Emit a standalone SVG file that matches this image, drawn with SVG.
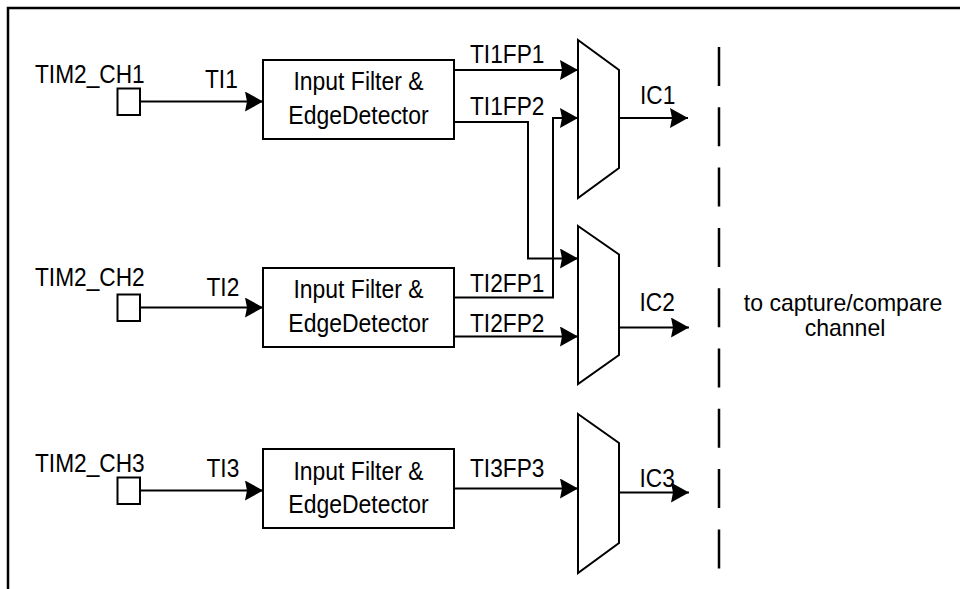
<svg xmlns="http://www.w3.org/2000/svg" width="960" height="589" viewBox="0 0 960 589">
<style>
.ln{fill:none;stroke:#000;stroke-width:2}
.box{fill:#fff;stroke:#000;stroke-width:2}
.mux{fill:#fff;stroke:#000;stroke-width:2;stroke-linejoin:miter}
.port{fill:#fff;stroke:#000;stroke-width:2}
.t{font-family:"Liberation Sans",Arial,sans-serif;font-size:25.5px;fill:#000}
.s{font-size:24px}
.c{text-anchor:middle}
.dash{fill:none;stroke:#000;stroke-width:2.5;stroke-dasharray:39 21.3}
</style>
<defs>
<marker id="arr" markerUnits="userSpaceOnUse" markerWidth="18" markerHeight="20" refX="18" refY="10" orient="auto" viewBox="0 0 18 20">
<path d="M0,0 L18,10 L0,20 L2,10 z" fill="#000"/>
</marker>
</defs>
<rect width="960" height="589" fill="#fff"/>
<path d="M8,589 V8 H960" fill="none" stroke="#000" stroke-width="2.5"/>

<g id="ch1">
<text class="t" transform="translate(35,82.5) scale(0.89,1)">TIM2_CH1</text>
<rect class="port" x="117.5" y="88.5" width="22.5" height="26.5"/>
</g>
<g id="ch2">
<text class="t" transform="translate(35,285.5) scale(0.89,1)">TIM2_CH2</text>
<rect class="port" x="117.5" y="294.5" width="22.5" height="26.5"/>
</g>
<g id="ch3">
<text class="t" transform="translate(35,471.5) scale(0.89,1)">TIM2_CH3</text>
<rect class="port" x="117.5" y="477.5" width="22.5" height="26.5"/>
</g>

<g id="filter1">
<rect class="box" x="263" y="60" width="191" height="79"/>
<text class="t c" transform="translate(358.5,90) scale(0.9,1)">Input Filter &amp;</text>
<text class="t c" transform="translate(358.5,124) scale(0.9,1)">EdgeDetector</text>
</g>
<g id="filter2">
<rect class="box" x="263" y="268" width="191" height="79"/>
<text class="t c" transform="translate(358.5,298) scale(0.9,1)">Input Filter &amp;</text>
<text class="t c" transform="translate(358.5,332) scale(0.9,1)">EdgeDetector</text>
</g>
<g id="filter3">
<rect class="box" x="263" y="449" width="191" height="79"/>
<text class="t c" transform="translate(358.5,480) scale(0.9,1)">Input Filter &amp;</text>
<text class="t c" transform="translate(358.5,513) scale(0.9,1)">EdgeDetector</text>
</g>

<g id="mux1">
<path class="mux" d="M578,40 L619,70 L619,168 L578,198 Z"/>
</g>
<g id="mux2">
<path class="mux" d="M578,226 L619,254.5 L619,355 L578,384 Z"/>
</g>
<g id="mux3">
<path class="mux" d="M578,414 L619,443 L619,543 L578,573 Z"/>
</g>

<g id="boundary">
<line class="dash" x1="719" y1="47" x2="719" y2="569"/>
<text class="t s c" transform="translate(843,311) scale(0.96,1)">to capture/compare</text>
<text class="t s c" transform="translate(845,335.5) scale(0.96,1)">channel</text>
</g>

<g id="connectors">
<path class="ln" d="M140,101.5 H263" marker-end="url(#arr)"/>
<path class="ln" d="M140,307.5 H263" marker-end="url(#arr)"/>
<path class="ln" d="M140,490.5 H263" marker-end="url(#arr)"/>
<path class="ln" d="M454,70 H578" marker-end="url(#arr)"/>
<path class="ln" d="M454,122 H528 V258.5 H578" marker-end="url(#arr)"/>
<path class="ln" d="M454,297.5 H553 V118 H578" marker-end="url(#arr)"/>
<path class="ln" d="M454,336.5 H578" marker-end="url(#arr)"/>
<path class="ln" d="M454,488.5 H578" marker-end="url(#arr)"/>
<path class="ln" d="M619,118 H688" marker-end="url(#arr)"/>
<path class="ln" d="M619,327.5 H689" marker-end="url(#arr)"/>
<path class="ln" d="M619,492.5 H689" marker-end="url(#arr)"/>
</g>

<g id="labels">
<text class="t" transform="translate(205,88) scale(0.89,1)">TI1</text>
<text class="t" transform="translate(206.5,296) scale(0.89,1)">TI2</text>
<text class="t" transform="translate(206.5,477) scale(0.89,1)">TI3</text>
<text class="t" transform="translate(470,63) scale(0.89,1)">TI1FP1</text>
<text class="t" transform="translate(470,114.5) scale(0.89,1)">TI1FP2</text>
<text class="t" transform="translate(470,291.5) scale(0.89,1)">TI2FP1</text>
<text class="t" transform="translate(470,331.5) scale(0.89,1)">TI2FP2</text>
<text class="t" transform="translate(470,477) scale(0.89,1)">TI3FP3</text>
<text class="t" transform="translate(640,104) scale(0.89,1)">IC1</text>
<text class="t" transform="translate(639.5,310.5) scale(0.89,1)">IC2</text>
<text class="t" transform="translate(639.5,487) scale(0.89,1)">IC3</text>
</g>
</svg>
